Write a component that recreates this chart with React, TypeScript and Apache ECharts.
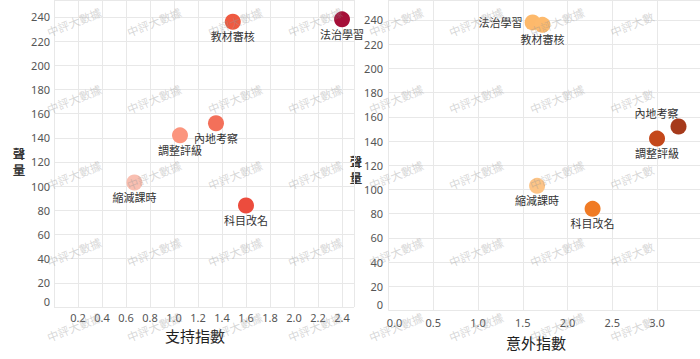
import React, { useEffect, useRef } from "react";
import * as echarts from "echarts";

const categories = ["法治學習", "教材審核", "內地考察", "調整評級", "縮減課時", "科目改名"];
const volume = [238, 236, 152, 142, 103, 84];
const supportIndex = [2.4, 1.49, 1.35, 1.05, 0.67, 1.6];
const surpriseIndex = [1.61, 1.72, 3.24, 3.0, 1.66, 2.28];

const supportColors = ["#a50f38", "#ef5a41", "#f3705a", "#fb957e", "#f9bfb1", "#ec4c3d"];
const surpriseColors = ["#fdb96b", "#fdba6d", "#a63a1b", "#c4481b", "#fdc486", "#f07b25"];

// label placement (style only)
const leftLabelPos: any[] = [
  { position: "bottom", distance: 1 },
  { position: "bottom", distance: 1 },
  { position: "bottom", distance: 1 },
  { position: "bottom", distance: 1 },
  { position: "bottom", distance: 1 },
  { position: "bottom", distance: 1 },
];
const rightLabelPos: any[] = [
  { position: "left", distance: 2 },
  { position: "bottom", distance: 1 },
  { position: "top", distance: 0, offset: [-22, 0] },
  { position: "bottom", distance: 1 },
  { position: "bottom", distance: 1 },
  { position: "bottom", distance: 1 },
];

const FONT = "'Noto Sans', 'Noto Sans CJK TC', sans-serif";
const CJK = "'Noto Sans CJK TC', 'Noto Sans', sans-serif";

export default function App() {
  const ref = useRef<HTMLDivElement>(null);
  useEffect(() => {
    if (!ref.current) return;
    const chart = echarts.init(ref.current, undefined, { renderer: "svg" });

    const axisCommon = {
      axisLine: { show: false },
      axisTick: { show: false },
      splitLine: { show: true, lineStyle: { color: "#e8e8e8", width: 1 } },
    };
    const yLabel = (margin: number) => ({
      margin,
      color: "#555",
      fontSize: 11,
      fontFamily: FONT,
      showMaxLabel: false,
      formatter: (v: number) => (v === 0 ? "{z|0}" : String(v)),
      rich: { z: { padding: [0, 0, 12, 0], color: "#555", fontSize: 11, fontFamily: FONT } },
    });

    const wmCols = [
      [74, 154, 235, 315],
      [396, 476, 557, 637],
    ];
    const wmRows = [22, 99, 175, 252, 327];
    const wm: any[] = [];
    wmCols.forEach((cols, p) => {
      cols.forEach((cx, ci) => {
        wmRows.forEach((cy) => {
          const clipped = p === 1 && ci === 3;
          wm.push({
            type: "text",
            x: clipped ? cx - 5 : cx,
            y: clipped ? cy + 2 : cy,
            rotation: 0.38,
            z: 100,
            silent: true,
            style: {
              text: clipped ? "中評大數" : "中評大數據",
              fill: "rgba(150,150,150,0.38)",
              font: `11.5px ${CJK}`,
              textAlign: "center",
              textVerticalAlign: "middle",
            },
          });
        });
      });
    });

    const ch = (t: string, x: number, y: number) => ({
      type: "text",
      x,
      y,
      style: { text: t, fill: "#333", font: `bold 12.5px ${CJK}`, textAlign: "center", textVerticalAlign: "middle" },
    });

    const titleTexts: any[] = [
      { type: "text", x: 195, y: 335, style: { text: "支持指數", fill: "#222", font: `15px ${CJK}`, textAlign: "center", textVerticalAlign: "middle" } },
      { type: "text", x: 536, y: 342.5, style: { text: "意外指數", fill: "#222", font: `15px ${CJK}`, textAlign: "center", textVerticalAlign: "middle" } },
      ch("聲", 19, 153),
      ch("量", 19, 169),
      ch("聲", 356, 161.5),
      ch("量", 356, 177.5),
    ];

    const labelBase = {
      show: true,
      color: "#333",
      fontSize: 11,
      fontFamily: CJK,
      formatter: (p: any) => p.name,
    };

    chart.setOption({
      animation: false,
      backgroundColor: "#fff",
      grid: [
        { left: 54, top: 0, width: 300, height: 307 },
        { left: 388.5, top: 0, width: 311.5, height: 310.5 },
      ],
      xAxis: [
        {
          gridIndex: 0,
          type: "value",
          min: 0,
          max: 2.5,
          interval: 0.2,
          ...axisCommon,
          axisLabel: {
            margin: 5,
            color: "#555",
            fontSize: 11,
            fontFamily: FONT,
            showMinLabel: false,
            showMaxLabel: false,
            formatter: (v: number) => v.toFixed(1),
          },
        },
        {
          gridIndex: 1,
          type: "value",
          min: 0,
          max: 3.48,
          interval: 0.5,
          ...axisCommon,
          axisLabel: {
            margin: 6,
            color: "#555",
            fontSize: 11,
            fontFamily: FONT,
            showMaxLabel: false,
            formatter: (v: number) => (v === 0 ? "{z|0.0}" : v.toFixed(1)),
            rich: { z: { padding: [0, 0, 0, 12], color: "#555", fontSize: 11, fontFamily: FONT } },
          },
        },
      ],
      yAxis: [
        { gridIndex: 0, type: "value", min: 0, max: 254, interval: 20, ...axisCommon, axisLabel: yLabel(4) },
        { gridIndex: 1, type: "value", min: 0, max: 256.5, interval: 20, ...axisCommon, axisLabel: yLabel(5.5) },
      ],
      series: [
        {
          type: "scatter",
          xAxisIndex: 0,
          yAxisIndex: 0,
          symbolSize: 16,
          label: labelBase,
          data: categories.map((c, i) => ({
            name: c,
            value: [supportIndex[i], volume[i]],
            itemStyle: { color: supportColors[i], opacity: 1 },
            label: { ...labelBase, ...leftLabelPos[i] },
          })),
        },
        {
          type: "scatter",
          xAxisIndex: 1,
          yAxisIndex: 1,
          symbolSize: 16,
          label: labelBase,
          data: categories.map((c, i) => ({
            name: c,
            value: [surpriseIndex[i], volume[i]],
            itemStyle: { color: surpriseColors[i], opacity: 1 },
            label: { ...labelBase, ...rightLabelPos[i] },
          })),
        },
      ],
      graphic: [...titleTexts, ...wm],
    });
    return () => chart.dispose();
  }, []);
  return (
    <div
      ref={ref}
      style={{ position: "absolute", left: 0, top: 0, width: 700, height: 359, background: "#fff" }}
    />
  );
}
